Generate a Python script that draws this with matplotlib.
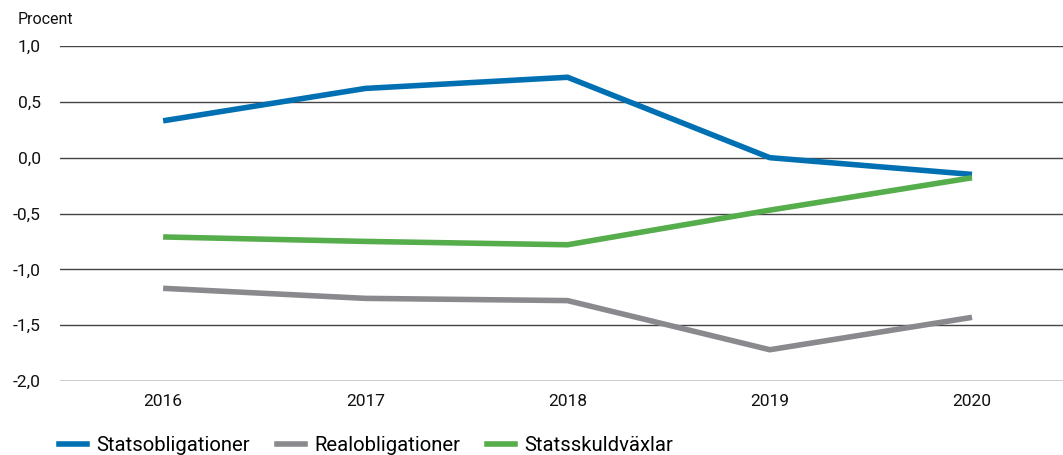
import matplotlib
matplotlib.use("Agg")
import matplotlib.pyplot as plt
from matplotlib.lines import Line2D

plt.rcParams['font.family'] = ['Roboto', 'DejaVu Sans']

years = [2016, 2017, 2018, 2019, 2020]
statsobligationer = [0.33, 0.62, 0.72, 0.00, -0.15]
realobligationer = [-1.17, -1.26, -1.28, -1.72, -1.43]
statsskuldvaxlar = [-0.71, -0.75, -0.78, -0.47, -0.18]
series_names = ["Statsobligationer", "Realobligationer", "Statsskuldväxlar"]
colors = ["#0070b2", "#8a8a8e", "#55ad4b"]
yticks = [1.0, 0.5, 0.0, -0.5, -1.0, -1.5, -2.0]
ytick_labels = ["1,0", "0,5", "0,0", "-0,5", "-1,0", "-1,5", "-2,0"]

fig = plt.figure(figsize=(10.63, 4.55), dpi=100)
ax = fig.add_axes([60/1063, 1 - 381/455, 1 - 60/1063, (381 - 46)/455])

for y in yticks:
    ax.axhline(y, color="#444444" if y != -2.0 else "#000000", lw=1.0, zorder=1)

for vals, c in zip([statsobligationer, realobligationer, statsskuldvaxlar], colors):
    ax.plot(years, vals, color=c, lw=4, solid_capstyle="butt", zorder=3)

ax.set_ylim(-2.0, 1.0)
ax.set_xlim(2015.49, 2020.45)
ax.set_yticks(yticks)
ax.set_yticklabels(ytick_labels)
ax.set_xticks(years)
ax.set_xticklabels([str(y) for y in years])
for s in ax.spines.values():
    s.set_visible(False)
ax.tick_params(axis="both", length=0, labelsize=12.5, colors="#111111")
ax.tick_params(axis="y", pad=14)
ax.tick_params(axis="x", pad=9)

fig.text(18/1063, 1 - 20/455, "Procent", fontsize=11.5, va="center", ha="left", color="#111111")

handles = [Line2D([0], [0], color=c, lw=4) for c in colors]
fig.legend(handles, series_names, loc="lower left", bbox_to_anchor=(59/1063, 0.0),
           ncol=3, frameon=False, fontsize=14.6, handlelength=1.38, handletextpad=0.48,
           columnspacing=1.3, borderpad=0, borderaxespad=0)

fig.savefig("out.png", dpi=100)
